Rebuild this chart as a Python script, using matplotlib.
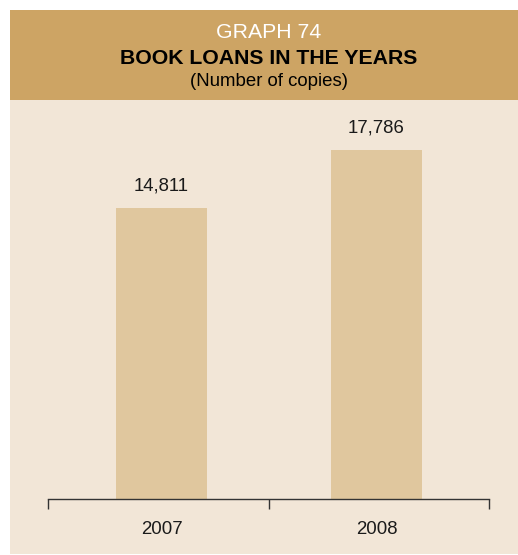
import matplotlib.pyplot as plt
from matplotlib.patches import Rectangle

plt.rcParams['font.family'] = ['Liberation Sans', 'DejaVu Sans']

# data
years = ['2007', '2008']
loans = [14811, 17786]

W, H = 518, 555
fig = plt.figure(figsize=(W / 100, H / 100), dpi=100)
fig.patch.set_facecolor('white')

# background panel and header band (pixel coords -> figure fraction)
def px(x, y):
    return x / W, 1 - y / H

fig.patches.append(Rectangle(px(10, 554), 508 / W, 544 / H, transform=fig.transFigure,
                             facecolor='#F2E6D7', edgecolor='none', zorder=-2))
fig.patches.append(Rectangle(px(10, 100), 508 / W, 90 / H, transform=fig.transFigure,
                             facecolor='#CDA464', edgecolor='none', zorder=-1))

fig.text(*px(269, 32), 'GRAPH 74', color='white', fontsize=15.3, ha='center', va='center')
fig.text(*px(269, 58), 'BOOK LOANS IN THE YEARS', color='black', fontsize=15.3,
         fontweight='bold', ha='center', va='center')
fig.text(*px(269, 81), '(Number of copies)', color='black', fontsize=13.4,
         ha='center', va='center')

# axes: x from 48 to 489 px, bottom at 499 px, top at 110 px
left, bottom = px(48, 499)
ax = fig.add_axes([left, bottom, (489 - 48) / W, (499 - 110) / H])
ax.set_facecolor('none')
ax.set_zorder(1)

scale = 291 / 14811  # px per copy
ymax = (499 - 110) / scale

x = [0.015, 0.99]  # bars sit slightly inside the category centres
bars = ax.bar(x, loans, width=0.41, color='#E0C79E', zorder=2)
for xi, v in zip(x, loans):
    ax.text(xi, v + 22 / scale, f'{v:,}', ha='center', va='center', fontsize=13.4, color='#1a1a1a')

ax.set_xlim(-0.5, 1.5)
ax.set_ylim(0, ymax)
for s in ['top', 'right', 'left']:
    ax.spines[s].set_visible(False)
ax.spines['bottom'].set_color('#333333')
ax.spines['bottom'].set_linewidth(1.0)
ax.set_yticks([])
ax.set_xticks([-0.5, 0.5, 1.5])
ax.set_xticklabels([])
ax.set_xticks(x, minor=True)
ax.set_xticklabels(years, minor=True, fontsize=13.4, color='#1a1a1a')
ax.tick_params(axis='x', which='major', direction='out', length=7, width=1, color='#333333')
ax.tick_params(axis='x', which='minor', length=0, pad=16)

fig.savefig('out.png', dpi=100)
